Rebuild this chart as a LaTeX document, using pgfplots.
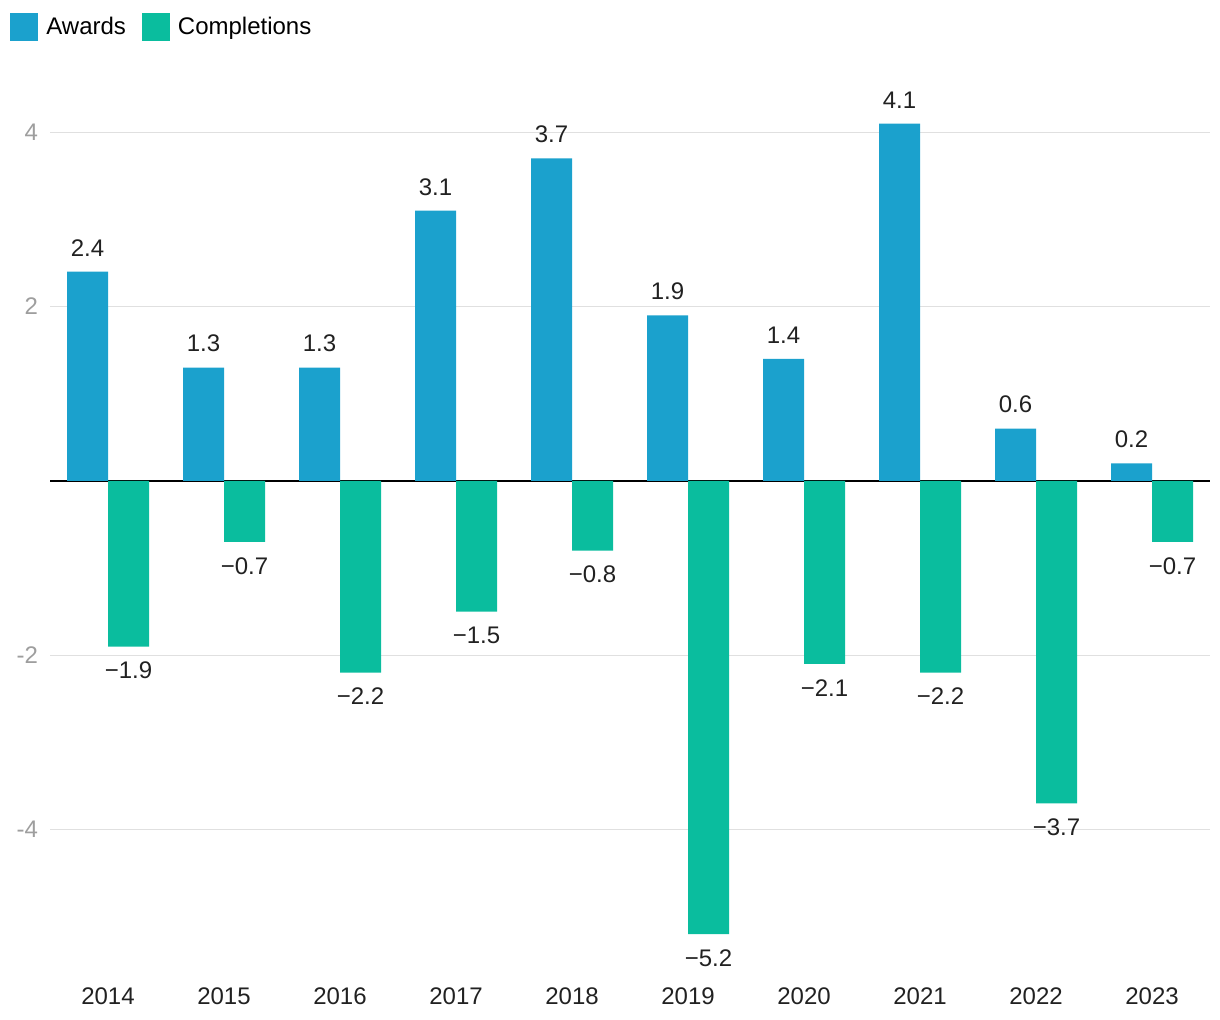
\documentclass[border=0pt]{standalone}
\usepackage{pgfplots}
\pgfplotsset{compat=1.18}
\usepackage{fontspec}
\setmainfont{Liberation Sans}
\definecolor{awd}{HTML}{1BA1CD}
\definecolor{cmp}{HTML}{0ABD9E}
\definecolor{gridc}{HTML}{E0E0E0}
\definecolor{tickc}{HTML}{9E9E9E}
\definecolor{txt}{HTML}{212121}
\begin{document}
\begin{tikzpicture}
\useasboundingbox (-25pt,-25.5pt) rectangle (585pt,484.5pt);
\begin{axis}[
  scale only axis,
  width=580pt, height=444.5pt,
  xmin=-0.5, xmax=9.5,
  ymin=-5.6, ymax=4.6,
  ybar=0pt, bar width=20.5pt,
  axis line style={draw=none},
  tick style={draw=none},
  xtick={0,...,9},
  xticklabels={2014,2015,2016,2017,2018,2019,2020,2021,2022,2023},
  ytick={-4,-2,2,4},
  yticklabels={-4,-2,2,4},
  ymajorgrids,
  grid style={gridc, line width=0.6pt},
  extra y ticks={0},
  extra y tick labels={},
  extra y tick style={grid style={black, line width=1pt}},
  tick label style={font=\fontsize{12}{14}\selectfont},
  xticklabel style={txt, yshift=-1.5pt},
  yticklabel style={tickc, xshift=-2.5pt},
  point meta=explicit symbolic,
  nodes near coords,
  every node near coord/.append style={font=\fontsize{12}{14}\selectfont, text=txt, inner ysep=7.5pt},
  legend columns=2,
  legend style={at={(axis description cs:-0.0345,1.0759)}, anchor=north west,
    draw=none, fill=none, inner sep=0pt, font=\fontsize{12}{14}\selectfont,
    /tikz/every odd column/.append style={column sep=2pt},
    /tikz/every even column/.append style={column sep=6pt}},
  legend cell align=left,
  legend image code/.code={\fill[#1] (0pt,-7pt) rectangle (14pt,7pt);},
]
\addplot[fill=awd, draw=none, every node near coord/.append style={anchor=south}] coordinates {
 (0,2.4) [2.4] (1,1.3) [1.3] (2,1.3) [1.3] (3,3.1) [3.1] (4,3.7) [3.7]
 (5,1.9) [1.9] (6,1.4) [1.4] (7,4.1) [4.1] (8,0.6) [0.6] (9,0.2) [0.2]
};
\addlegendentry{Awards}
\addplot[fill=cmp, draw=none, every node near coord/.append style={anchor=north}] coordinates {
 (0,-1.9) [−1.9] (1,-0.7) [−0.7] (2,-2.2) [−2.2] (3,-1.5) [−1.5] (4,-0.8) [−0.8]
 (5,-5.2) [−5.2] (6,-2.1) [−2.1] (7,-2.2) [−2.2] (8,-3.7) [−3.7] (9,-0.7) [−0.7]
};
\addlegendentry{Completions}
\end{axis}
\end{tikzpicture}
\end{document}
